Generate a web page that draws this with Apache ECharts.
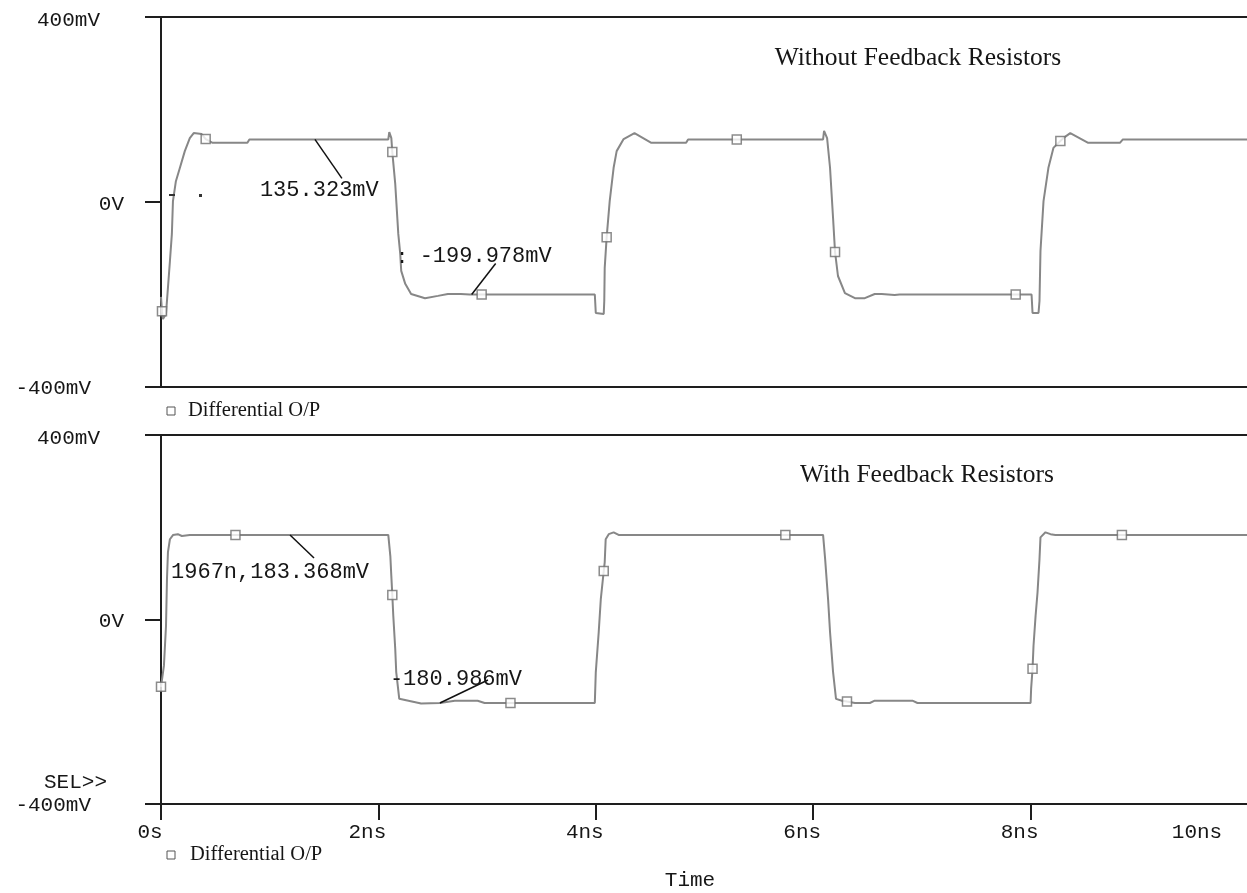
<!DOCTYPE html>
<html>
<head>
<meta charset="utf-8">
<script src="https://cdn.jsdelivr.net/npm/echarts@6/dist/echarts.min.js"></script>
<style>
  html, body { margin: 0; padding: 0; background: #ffffff; }
  #main { width: 1247px; height: 893px; }
</style>
</head>
<body>
<div id="main"></div>
<script>
// Time axis (ns) and voltage axis (mV)
const timeTicks = [0, 2, 4, 6, 8, 10];
const timeTickLabels = ['0s', '2ns', '4ns', '6ns', '8ns', '10ns'];
const voltTicks = [-400, 0, 400];
const voltTickLabels = ['-400mV', '0V', '400mV'];
const panelTitles = ['Without Feedback Resistors', 'With Feedback Resistors'];
const traceName = 'Differential O/P';
const timeAxisName = 'Time';
const cursorLabel = 'SEL>>';

// Differential output without feedback resistors: [time ns, mV]
const noFeedbackTrace = [
  [0, -205], [0.009, -236], [0.018, -253], [0.046, -242], [0.082, -128], [0.100, -69],
  [0.110, 2], [0.137, 45], [0.174, 74], [0.219, 110], [0.265, 138], [0.301, 149],
  [0.374, 147], [0.411, 136], [0.475, 128], [0.795, 128], [0.813, 135.323],
  [2.091, 135.323], [2.100, 151], [2.119, 138], [2.128, 108], [2.155, 39], [2.183, -69],
  [2.201, -112], [2.210, -149], [2.247, -177], [2.301, -199], [2.429, -208], [2.548, -203],
  [2.639, -199], [2.758, -199], [2.840, -199.978], [2.950, -199.978], [3.991, -199.978],
  [4.000, -240], [4.073, -242], [4.078, -214], [4.082, -143], [4.100, -76], [4.128, 2],
  [4.164, 74], [4.192, 110], [4.256, 136], [4.356, 149], [4.511, 128], [4.831, 128],
  [4.849, 135.323], [5.297, 135.323], [6.091, 135.323], [6.100, 154], [6.128, 138],
  [6.155, 74], [6.183, -35], [6.201, -108], [6.228, -160], [6.292, -197], [6.384, -208],
  [6.475, -208], [6.566, -199], [6.630, -199], [6.749, -201], [6.795, -199.978],
  [7.863, -199.978], [8.009, -199.978], [8.018, -240], [8.073, -240], [8.082, -214],
  [8.091, -106], [8.119, 2], [8.164, 74], [8.210, 117], [8.274, 132], [8.301, 138],
  [8.365, 149], [8.530, 128], [8.822, 128], [8.849, 135.323], [9.991, 135.323]
];
const noFeedbackMarkers = [
  [0.009, -236], [0.411, 136], [2.128, 108], [2.950, -199.978], [4.100, -76],
  [5.297, 135.323], [6.201, -108], [7.863, -199.978], [8.274, 132]
];

// Differential output with feedback resistors: [time ns, mV]
const feedbackTrace = [
  [0, -146], [0.027, -100], [0.046, -14], [0.055, 88], [0.064, 146], [0.082, 174],
  [0.110, 183], [0.155, 185], [0.192, 181], [0.265, 183.368], [2.091, 183.368],
  [2.110, 137], [2.119, 94], [2.128, 53], [2.137, 8], [2.155, -64], [2.164, -114],
  [2.192, -172], [2.210, -176], [2.393, -182], [2.566, -180.986], [2.703, -176],
  [2.913, -176], [2.977, -180.986], [3.991, -180.986], [4.000, -114], [4.027, -27],
  [4.046, 44], [4.073, 105], [4.082, 124], [4.091, 174], [4.119, 185], [4.164, 189],
  [4.210, 183.368], [6.091, 183.368], [6.110, 131], [6.137, 44], [6.155, -27],
  [6.183, -114], [6.210, -172], [6.265, -176], [6.311, -178], [6.384, -180.986],
  [6.521, -180.986], [6.566, -176], [6.913, -176], [6.959, -180.986], [8.000, -180.986],
  [8.005, -150], [8.018, -107], [8.027, -57], [8.046, 8], [8.064, 59], [8.082, 131],
  [8.091, 178], [8.137, 189], [8.183, 185], [8.228, 183.368], [9.991, 183.368]
];
const feedbackMarkers = [
  [0, -146], [0.685, 183.368], [2.128, 53], [3.215, -180.986], [4.073, 105],
  [5.744, 183.368], [6.311, -178], [8.018, -107], [8.840, 183.368]
];

// Cursor read-outs: panel index, time (ns), value (mV), prefix
const cursorPanels = [0, 0, 1, 1];
const cursorTimes = [1.416, 2.858, 1.187, 2.566];
const cursorValues = [135.323, -199.978, 183.368, -180.986];
const cursorPrefixes = ['', '', '1967n,', ''];

const X_MAX = 9.991;
const MONO = '"Liberation Mono", "DejaVu Sans Mono", monospace';
const SERIF = '"Liberation Serif", "DejaVu Serif", serif';
const AXIS_COLOR = '#1e1e1e';
const TRACE_COLOR = '#878787';
const TEXT_COLOR = '#161616';

const chart = echarts.init(document.getElementById('main'), null, { renderer: 'canvas' });

function voltLabel(value) {
  const i = voltTicks.indexOf(value);
  if (i < 0) return '';
  const key = value > 0 ? 'hi' : (value < 0 ? 'lo' : 'mid');
  return '{' + key + '|' + voltTickLabels[i] + '}';
}
function timeLabel(value) {
  const i = timeTicks.findIndex(t => Math.abs(t - value) < 1e-6);
  if (i < 0 || value > X_MAX) return '';
  return '{t|' + timeTickLabels[i] + '}';
}

const lineAxis = { show: true, onZero: false, lineStyle: { color: AXIS_COLOR, width: 2 } };

function frameX(gridIndex, position) {
  return {
    type: 'value', gridIndex, position, min: 0, max: X_MAX, interval: 2,
    axisLine: lineAxis, axisTick: { show: false }, axisLabel: { show: false },
    splitLine: { show: false }
  };
}

const yAxisBase = (gridIndex) => ({
  type: 'value', gridIndex, min: -400, max: 400, interval: 400,
  axisLine: lineAxis,
  axisTick: { show: true, length: 16, lineStyle: { color: AXIS_COLOR, width: 2 } },
  axisLabel: {
    margin: 37, formatter: voltLabel,
    rich: {
      hi: { fontFamily: MONO, fontSize: 21, color: TEXT_COLOR, padding: [6, 24, 0, 0] },
      mid: { fontFamily: MONO, fontSize: 21, color: TEXT_COLOR, padding: [4, 0, 0, 0] },
      lo: { fontFamily: MONO, fontSize: 21, color: TEXT_COLOR, padding: [2, 33, 0, 0] }
    }
  },
  splitLine: { show: false }
});

const traceStyle = { color: TRACE_COLOR, width: 2 };
const markerStyle = { color: '#ffffff', borderColor: '#6e6e6e', borderWidth: 1.5 };

chart.setOption({
  animation: false,
  backgroundColor: '#ffffff',
  grid: [
    { left: 161, top: 17, right: -8, height: 370 },
    { left: 161, top: 435, right: -8, height: 369 }
  ],
  xAxis: [
    frameX(0, 'bottom'),
    frameX(0, 'top'),
    {
      type: 'value', gridIndex: 1, position: 'bottom', min: 0, max: X_MAX, interval: 2,
      axisLine: lineAxis,
      axisTick: { show: true, length: 16, lineStyle: { color: AXIS_COLOR, width: 2 } },
      axisLabel: {
        margin: 18, formatter: timeLabel, showMaxLabel: false,
        rich: { t: { fontFamily: MONO, fontSize: 21, color: TEXT_COLOR, padding: [0, 22, 0, 0] } }
      },
      splitLine: { show: false }
    },
    frameX(1, 'top')
  ],
  yAxis: [yAxisBase(0), yAxisBase(1)],
  series: [
    { name: traceName, type: 'line', xAxisIndex: 0, yAxisIndex: 0, data: noFeedbackTrace,
      showSymbol: false, lineStyle: traceStyle, z: 3 },
    { name: traceName, type: 'scatter', xAxisIndex: 0, yAxisIndex: 0, data: noFeedbackMarkers,
      symbol: 'rect', symbolSize: 9, itemStyle: markerStyle, z: 4 },
    { name: traceName, type: 'line', xAxisIndex: 2, yAxisIndex: 1, data: feedbackTrace,
      showSymbol: false, lineStyle: traceStyle, z: 3 },
    { name: traceName, type: 'scatter', xAxisIndex: 2, yAxisIndex: 1, data: feedbackMarkers,
      symbol: 'rect', symbolSize: 9, itemStyle: markerStyle, z: 4 }
  ]
});

// Leader-line geometry for each read-out, in pixels from the traced point
const leaderOffsets = [[27, 39], [24, -31], [24, 23], [48, -23]];
const readoutOffsets = [[-55, 51], [-52, -38], [-119, 37], [-50, -24]];

const graphics = [];
function text(x, y, str, font, align, extra) {
  graphics.push(Object.assign({
    type: 'text', x, y, z: 10,
    style: { text: str, font, fill: TEXT_COLOR, align: align || 'left', verticalAlign: 'middle' }
  }, extra || {}));
}

// Panel titles
text(918, 58, panelTitles[0], '25.5px ' + SERIF, 'center');
text(927, 475, panelTitles[1], '25.5px ' + SERIF, 'center');

// Trace keys under each panel
[[171, 411, 188], [171, 855, 190]].forEach(([cx, cy, tx]) => {
  graphics.push({ type: 'rect', shape: { x: cx - 4, y: cy - 4, width: 8, height: 8 },
    style: { fill: '#fff', stroke: '#555', lineWidth: 1 }, z: 10 });
  text(tx, cy, traceName, '20.5px ' + SERIF, 'left');
});

// Axis extras
text(44, 782, cursorLabel, '21px ' + MONO, 'left');
text(690, 880, timeAxisName, '21px ' + MONO, 'center');
text(1197, 832, timeTickLabels[5], '21px ' + MONO, 'center');

// Cursor read-outs with leader lines
cursorTimes.forEach((t, i) => {
  const panel = cursorPanels[i];
  const p = chart.convertToPixel({ xAxisIndex: panel === 0 ? 0 : 2, yAxisIndex: panel }, [t, cursorValues[i]]);
  const lo = leaderOffsets[i];
  const ro = readoutOffsets[i];
  graphics.push({ type: 'line', z: 9,
    shape: { x1: p[0], y1: p[1], x2: p[0] + lo[0], y2: p[1] + lo[1] },
    style: { stroke: '#111', lineWidth: 1.5 } });
  text(p[0] + ro[0], p[1] + ro[1], cursorPrefixes[i] + cursorValues[i].toFixed(3) + 'mV', '22px ' + MONO, 'left');
});
// stray cursor marks left on the plot
text(402, 257, ':', '21px ' + MONO, 'center');
graphics.push({ type: 'rect', shape: { x: 169, y: 194, width: 6, height: 2 }, style: { fill: '#333' }, z: 9 });
graphics.push({ type: 'rect', shape: { x: 199, y: 194, width: 3, height: 3 }, style: { fill: '#333' }, z: 9 });

chart.setOption({ graphic: graphics });
</script>
</body>
</html>
